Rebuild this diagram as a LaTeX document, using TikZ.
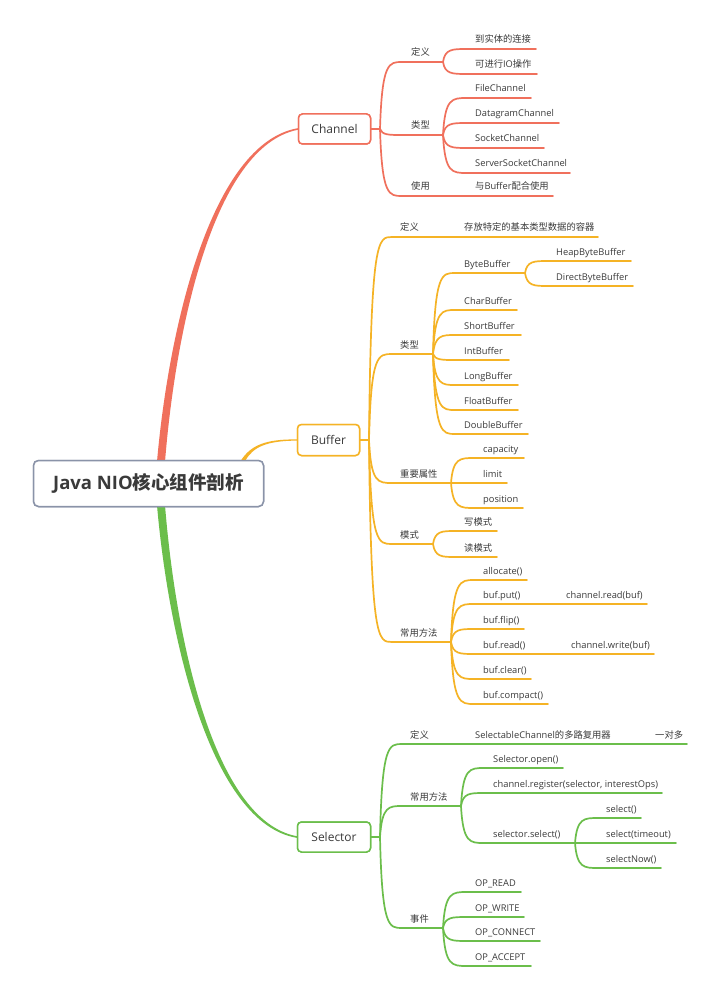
\documentclass[tikz,border=0pt]{standalone}
\usepackage{fontspec}
\setmainfont{Open Sans}
\newfontfamily\cjk{Noto Sans CJK SC}
\usetikzlibrary{calc}

\definecolor{chred}{HTML}{F0705C}
\definecolor{bforange}{HTML}{F5B325}
\definecolor{slgreen}{HTML}{6BBE4B}
\definecolor{rootline}{HTML}{8A93A8}
\definecolor{txt}{HTML}{3A3A3A}

\tikzset{
  ln/.style={line width=1.7pt, line cap=round},
  lbl/.style={text=txt, inner sep=0pt, anchor=base west, font=\fontsize{9.3}{11}\selectfont},
  mainbox/.style={line width=1.5pt, rounded corners=4pt, fill=white, text=txt,
    inner sep=0pt, font=\fontsize{12}{14}\selectfont},
  rootbox/.style={draw=rootline, line width=1.5pt, rounded corners=5pt, fill=white, text=txt,
    minimum width=230, minimum height=46, inner sep=0pt,
    font=\bfseries\fontsize{18.5}{22}\selectfont},
}

% topic with underline: name, x start, x end, y of underline, x of text, text
\newcommand\mmtopic[6]{%
  \coordinate (#1S) at (#2,#4);
  \coordinate (#1E) at (#3,#4);
  \node[lbl] (#1) at (#5,#4-6) {#6};
  \draw[ln] (#1S) -- (#1E);}
% extra label sitting on an existing underline: name, x, y, text
\newcommand\mmlabel[4]{\node[lbl] (#1) at (#2,#3-6) {#4};}
% curved connector from a fork point to the start of a child underline
\newcommand\mmlink[2]{\draw[ln] (#1) .. controls ($(#1|-#2)+(2,0)$) and ($(#1|-#2)+(9,0)$) .. (#2);}

\begin{document}
\begin{tikzpicture}[x=1pt, y=-1pt]
\useasboundingbox[fill=white] (0,0) rectangle (721,1000);

% central topic and main topics (placed first so branches can refer to them)
\node[rootbox] (root) at (148.5,483.5) {Java NIO{\cjk 核心组件剖析}};
\node[mainbox, draw=chred, minimum width=72, minimum height=30] (channel) at (334.5,129) {Channel};
\node[mainbox, draw=bforange, minimum width=62, minimum height=31] (buffer) at (328.5,440) {Buffer};
\node[mainbox, draw=slgreen, minimum width=73, minimum height=30] (selector) at (334,837) {Selector};

% tapered main branches
\fill[chred] ($(root.north)+(8.5,2)$) .. controls (168.5,330) and (210.5,143.5) .. ($(channel.west)+(0,-0.8)$)
  -- ($(channel.west)+(0,0.8)$) .. controls (213.5,146.5) and (175.5,330) .. ($(root.north)+(16.5,2)$) -- cycle;
\fill[bforange] ($(root.north east)+(-23.5,1)$) .. controls (250.8,445) and (266,439.1) .. ($(buffer.west)+(0,-0.6)$)
  -- ($(buffer.west)+(0,0.6)$) .. controls (266,440.9) and (253.2,447) .. ($(root.north east)+(-19,1)$) -- cycle;
\fill[slgreen] ($(root.south)+(8.5,-2)$) .. controls (168.5,637) and (210.5,823.5) .. ($(selector.west)+(0,0.8)$)
  -- ($(selector.west)+(0,-0.8)$) .. controls (213.5,820.5) and (175.5,637) .. ($(root.south)+(16.5,-2)$) -- cycle;

% boxes again, above the branch ends
\node[rootbox] at (root) {Java NIO{\cjk 核心组件剖析}};
\node[mainbox, draw=chred, minimum width=72, minimum height=30] at (channel) {Channel};
\node[mainbox, draw=bforange, minimum width=62, minimum height=31] at (buffer) {Buffer};
\node[mainbox, draw=slgreen, minimum width=73, minimum height=30] at (selector) {Selector};

% ---------------- Channel ----------------
\begin{scope}[color=chred]
  \coordinate (cf) at (380,129);
  \draw[ln] (channel.east) -- (cf);
  \mmtopic{ch1}{402}{443}{62}{411}{\cjk 定义}
  \mmtopic{ch1a}{467}{536}{49}{475}{\cjk 到实体的连接}
  \mmtopic{ch1b}{467}{537}{74}{475}{{\cjk 可进行}IO{\cjk 操作}}
  \mmtopic{ch2}{402}{443}{135}{411}{\cjk 类型}
  \mmtopic{ch2a}{467}{531}{98}{475}{FileChannel}
  \mmtopic{ch2b}{467}{559}{123}{475}{DatagramChannel}
  \mmtopic{ch2c}{467}{544}{148}{475}{SocketChannel}
  \mmtopic{ch2d}{467}{570}{173}{475}{ServerSocketChannel}
  \mmtopic{ch3}{402}{553}{196}{411}{\cjk 使用}
  \mmlabel{ch3a}{475}{196}{{\cjk 与}Buffer{\cjk 配合使用}}
  \mmlink{cf}{ch1S} \mmlink{cf}{ch2S} \mmlink{cf}{ch3S}
  \mmlink{ch1E}{ch1aS} \mmlink{ch1E}{ch1bS}
  \mmlink{ch2E}{ch2aS} \mmlink{ch2E}{ch2bS} \mmlink{ch2E}{ch2cS} \mmlink{ch2E}{ch2dS}
\end{scope}

% ---------------- Buffer ----------------
\begin{scope}[color=bforange]
  \coordinate (bf) at (369,440);
  \draw[ln] (buffer.east) -- (bf);
  \mmtopic{bu1}{392}{598}{237}{400}{\cjk 定义}
  \mmlabel{bu1a}{464}{237}{\cjk 存放特定的基本类型数据的容器}
  \mmtopic{bu2}{392}{433}{354}{400}{\cjk 类型}
  \mmtopic{bu2a}{455}{525}{273}{464}{ByteBuffer}
  \mmtopic{bu2aa}{548}{631}{261}{556}{HeapByteBuffer}
  \mmtopic{bu2ab}{548}{633}{286}{556}{DirectByteBuffer}
  \mmtopic{bu2b}{455}{517}{310}{464}{CharBuffer}
  \mmtopic{bu2c}{455}{521}{335}{464}{ShortBuffer}
  \mmtopic{bu2d}{455}{509}{360}{464}{IntBuffer}
  \mmtopic{bu2e}{455}{518}{385}{464}{LongBuffer}
  \mmtopic{bu2f}{455}{518}{410}{464}{FloatBuffer}
  \mmtopic{bu2g}{455}{528}{434}{464}{DoubleBuffer}
  \mmtopic{bu3}{392}{451}{483}{400}{\cjk 重要属性}
  \mmtopic{bu3a}{474}{524}{458}{483}{capacity}
  \mmtopic{bu3b}{474}{507}{483}{483}{limit}
  \mmtopic{bu3c}{474}{523}{508}{483}{position}
  \mmtopic{bu4}{392}{433}{544}{400}{\cjk 模式}
  \mmtopic{bu4a}{455}{497}{531}{464}{\cjk 写模式}
  \mmtopic{bu4b}{455}{497}{557}{464}{\cjk 读模式}
  \mmtopic{bu5}{392}{451}{642}{400}{\cjk 常用方法}
  \mmtopic{bu5a}{474}{527}{580}{483}{allocate()}
  \mmtopic{bu5b}{474}{647}{604}{483}{buf.put()}
  \mmlabel{bu5ba}{566}{604}{channel.read(buf)}
  \mmtopic{bu5c}{474}{524}{629}{483}{buf.flip()}
  \mmtopic{bu5d}{474}{654}{654}{483}{buf.read()}
  \mmlabel{bu5da}{571}{654}{channel.write(buf)}
  \mmtopic{bu5e}{474}{531}{679}{483}{buf.clear()}
  \mmtopic{bu5f}{474}{548}{704}{483}{buf.compact()}
  \mmlink{bf}{bu1S} \mmlink{bf}{bu2S} \mmlink{bf}{bu3S} \mmlink{bf}{bu4S} \mmlink{bf}{bu5S}
  \mmlink{bu2E}{bu2aS} \mmlink{bu2E}{bu2bS} \mmlink{bu2E}{bu2cS} \mmlink{bu2E}{bu2dS}
  \mmlink{bu2E}{bu2eS} \mmlink{bu2E}{bu2fS} \mmlink{bu2E}{bu2gS}
  \mmlink{bu2aE}{bu2aaS} \mmlink{bu2aE}{bu2abS}
  \mmlink{bu3E}{bu3aS} \mmlink{bu3E}{bu3bS} \mmlink{bu3E}{bu3cS}
  \mmlink{bu4E}{bu4aS} \mmlink{bu4E}{bu4bS}
  \mmlink{bu5E}{bu5aS} \mmlink{bu5E}{bu5bS} \mmlink{bu5E}{bu5cS}
  \mmlink{bu5E}{bu5dS} \mmlink{bu5E}{bu5eS} \mmlink{bu5E}{bu5fS}
\end{scope}

% ---------------- Selector ----------------
\begin{scope}[color=slgreen]
  \coordinate (sf) at (380,837);
  \draw[ln] (selector.east) -- (sf);
  \mmtopic{se1}{402}{687}{744}{410}{\cjk 定义}
  \mmlabel{se1a}{475}{744}{SelectableChannel{\cjk 的多路复用器}}
  \mmlabel{se1b}{655}{744}{\cjk 一对多}
  \mmtopic{se2}{402}{461}{806}{410}{\cjk 常用方法}
  \mmtopic{se2a}{484}{563}{768}{493}{Selector.open()}
  \mmtopic{se2b}{484}{662}{793}{493}{channel.register(selector, interestOps)}
  \mmtopic{se2c}{484}{575}{843}{493}{selector.select()}
  \mmtopic{se2ca}{598}{641}{818}{606}{select()}
  \mmtopic{se2cb}{598}{676}{843}{606}{select(timeout)}
  \mmtopic{se2cc}{598}{661}{868}{606}{selectNow()}
  \mmtopic{se3}{402}{443}{928}{410}{\cjk 事件}
  \mmtopic{se3a}{467}{521}{892}{475}{OP\_READ}
  \mmtopic{se3b}{467}{524}{917}{475}{OP\_WRITE}
  \mmtopic{se3c}{467}{540}{941}{475}{OP\_CONNECT}
  \mmtopic{se3d}{467}{531}{966}{475}{OP\_ACCEPT}
  \mmlink{sf}{se1S} \mmlink{sf}{se2S} \mmlink{sf}{se3S}
  \mmlink{se2E}{se2aS} \mmlink{se2E}{se2bS} \mmlink{se2E}{se2cS}
  \mmlink{se2cE}{se2caS} \mmlink{se2cE}{se2cbS} \mmlink{se2cE}{se2ccS}
  \mmlink{se3E}{se3aS} \mmlink{se3E}{se3bS} \mmlink{se3E}{se3cS} \mmlink{se3E}{se3dS}
\end{scope}
\end{tikzpicture}
\end{document}
